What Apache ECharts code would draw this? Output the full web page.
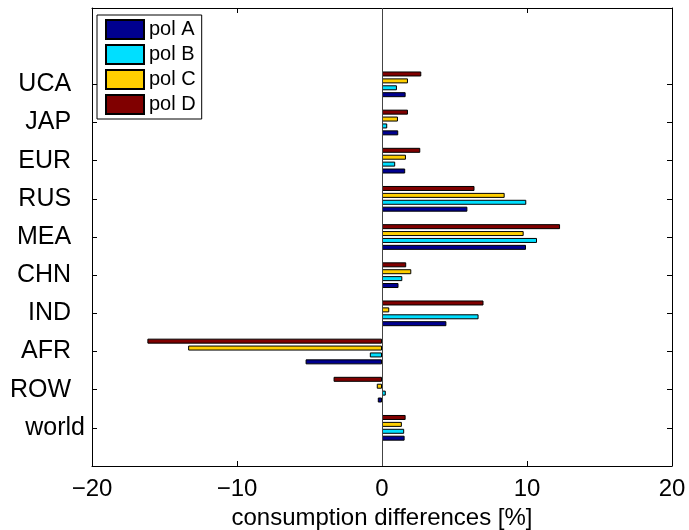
<!DOCTYPE html>
<html>
<head>
<meta charset="utf-8">
<script src="https://cdn.jsdelivr.net/npm/echarts@6/dist/echarts.min.js"></script>
<style>
  html, body { margin: 0; padding: 0; background: #fff; }
  #chart { width: 689px; height: 530px; }
</style>
</head>
<body>
<div id="chart"></div>
<script>
// regions, bottom to top
var regions = ['world', 'ROW', 'AFR', 'IND', 'CHN', 'MEA', 'RUS', 'EUR', 'JAP', 'UCA'];
var seriesNames = ['pol A', 'pol B', 'pol C', 'pol D'];
var polA = [1.56, -0.29, -5.27, 4.44, 1.14, 9.93, 5.89, 1.60, 1.12, 1.63];
var polB = [1.53, 0.26, -0.84, 6.66, 1.40, 10.69, 9.95, 0.91, 0.36, 1.03];
var polC = [1.37, -0.36, -13.37, 0.50, 2.02, 9.77, 8.46, 1.65, 1.10, 1.79];
var polD = [1.63, -3.34, -16.18, 7.00, 1.67, 12.28, 6.38, 2.64, 1.79, 2.71];
var colors = ['#00008F', '#00DFFF', '#FFCF00', '#800000'];

// y range 0..12 like the original, categories sit at 1..10
var yCats = [''].concat(regions, ['', '']);
var font = 'Liberation Sans, Arial, Helvetica, sans-serif';

function pad(arr) {
  return [null].concat(arr);
}
function tickOn(index, value) {
  return value !== '';
}

var chart = echarts.init(document.getElementById('chart'));

var allData = [polA, polB, polC, polD];
var series = [];
// echarts puts the first series on top of a horizontal group, so add them reversed
for (var i = 3; i >= 0; i--) {
  var s = {
    name: seriesNames[i],
    type: 'bar',
    data: pad(allData[i]),
    barWidth: 5,
    barGap: '38%',
    itemStyle: { color: colors[i], borderColor: '#000', borderWidth: 1 }
  };
  if (i === 0) {
    // baseline at x = 0
    s.markLine = {
      silent: true,
      symbol: ['none', 'none'],
      label: { show: false },
      lineStyle: { color: '#444', width: 1, type: 'solid' },
      data: [{ xAxis: 0 }]
    };
  }
  series.push(s);
}

var option = {
  animation: false,
  backgroundColor: '#fff',
  textStyle: { fontFamily: font },
  grid: { left: 92, right: 17, top: 8, bottom: 64, outerBoundsMode: 'none' },
  legend: {
    data: seriesNames,
    orient: 'vertical',
    left: 97,
    top: 15,
    padding: [4, 6, 4, 8],
    itemGap: 4,
    itemWidth: 38,
    itemHeight: 19,
    icon: 'rect',
    backgroundColor: '#fff',
    borderColor: '#000',
    borderWidth: 1,
    textStyle: { fontSize: 20, lineHeight: 19, color: '#000', fontFamily: font }
  },
  xAxis: [
    {
      type: 'value',
      min: -20,
      max: 20,
      interval: 10,
      name: 'consumption differences [%]',
      nameLocation: 'middle',
      nameGap: 28,
      nameTextStyle: { fontSize: 24, color: '#000', fontFamily: font },
      axisLine: { show: true, onZero: false, lineStyle: { color: '#000', width: 1 } },
      axisTick: { show: true, inside: true, length: 5, lineStyle: { color: '#000' } },
      axisLabel: {
        fontSize: 24,
        color: '#000',
        margin: 11,
        fontFamily: font,
        formatter: function (v) { return String(v).replace('-', '\u2212'); }
      },
      splitLine: { show: false }
    },
    {
      type: 'value',
      position: 'top',
      min: -20,
      max: 20,
      interval: 10,
      axisLine: { show: true, onZero: false, lineStyle: { color: '#000', width: 1 } },
      axisTick: { show: true, inside: true, length: 5, lineStyle: { color: '#000' } },
      axisLabel: { show: false },
      splitLine: { show: false }
    }
  ],
  yAxis: [
    {
      type: 'category',
      data: yCats,
      boundaryGap: false,
      axisLine: { show: true, onZero: false, lineStyle: { color: '#000', width: 1 } },
      axisTick: { show: true, inside: true, length: 5, interval: tickOn, lineStyle: { color: '#000' } },
      axisLabel: {
        fontSize: 25,
        color: '#000',
        margin: 7,
        fontFamily: font,
        interval: 0,
        // original labels were padded to the same length
        formatter: function (v) { return v === '' ? '' : v + (v.length < 5 ? '  ' : ''); }
      },
      splitLine: { show: false }
    },
    {
      type: 'category',
      data: yCats,
      position: 'right',
      boundaryGap: false,
      axisLine: { show: true, onZero: false, lineStyle: { color: '#000', width: 1 } },
      axisTick: { show: true, inside: true, length: 5, interval: tickOn, lineStyle: { color: '#000' } },
      axisLabel: { show: false },
      splitLine: { show: false }
    }
  ],
  series: series
};

chart.setOption(option);
</script>
</body>
</html>
